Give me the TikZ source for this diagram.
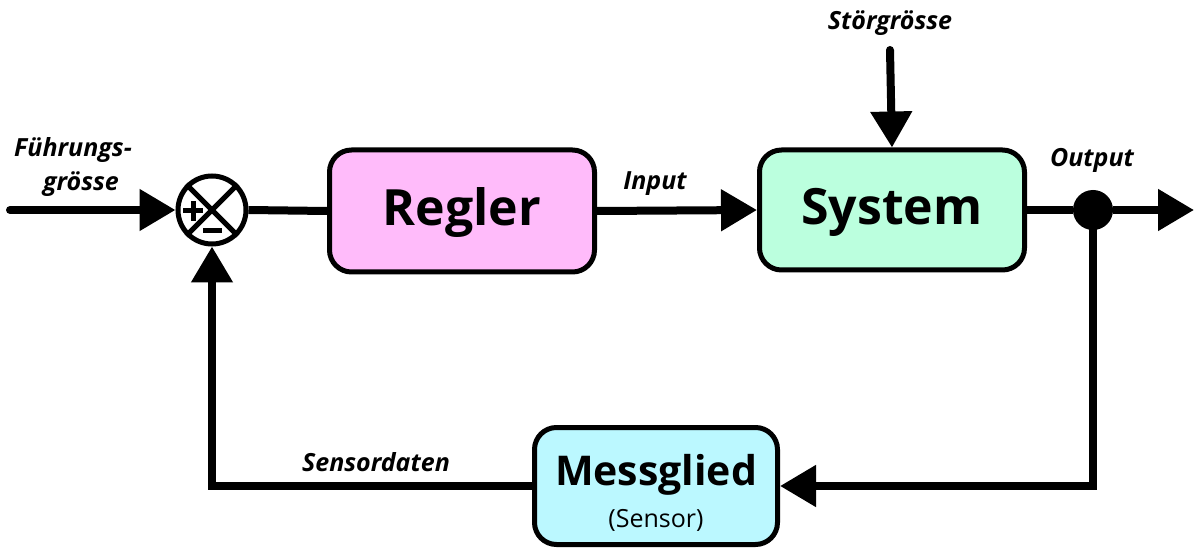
\documentclass[tikz,border=0pt]{standalone}
\usepackage{fontspec}
\setmainfont{Open Sans}
\usetikzlibrary{arrows.meta}
\definecolor{reglerfill}{RGB}{255,187,250}
\definecolor{systemfill}{RGB}{187,255,222}
\definecolor{messfill}{RGB}{187,248,255}
\tikzset{
  block/.style={draw=black, line width=5pt, rounded corners=22pt, inner sep=0pt},
  title/.style={font=\fontsize{50}{56}\selectfont\bfseries, inner sep=0pt},
  wire/.style={line width=8pt},
  flow/.style={wire, -{Triangle[length=36pt,width=40pt]}},
  sign/.style={line width=5pt},
  lbl/.style={font=\fontsize{25}{30}\selectfont\bfseries\itshape, inner sep=0pt},
}
\begin{document}
\begin{tikzpicture}[x=1pt,y=-1pt]
\useasboundingbox (0,0) rectangle (1195,548);

% blocks
\node[block, fill=reglerfill, minimum width=265pt, minimum height=122pt] (regler) at (462,211) {};
\node[title] (reglertext) at (462,213) {Regler};
\node[block, fill=systemfill, minimum width=265pt, minimum height=120pt] (system) at (892,210) {};
\node[title] (systemtext) at (892,212) {System};
\node[block, fill=messfill, minimum width=243pt, minimum height=117pt] (mess) at (656,486) {};
\node[font=\fontsize{41}{46}\selectfont\bfseries, inner sep=0pt] (messtitle) at (656,475) {Messglied};
\node[font=\fontsize{25}{30}\selectfont, inner sep=0pt] (messsub) at (656,520) {(Sensor)};

% summing junction with its signs
\node[draw, circle, line width=5pt, minimum size=68pt, inner sep=0pt] (sum) at (212,210) {};
\draw[line width=5pt] (sum.north west) -- (sum.south east);
\draw[line width=5pt] (sum.north east) -- (sum.south west);
\draw[sign] (183,211) -- (203,211) (193,201) -- (193,221);
\draw[sign] (203,231) -- (222,231);

% branch point
\node[fill=black, circle, minimum size=40pt, inner sep=0pt] (dot) at (1093,210) {};

% free ends
\coordinate (in) at (10,210);
\coordinate (out) at (1194,210);
\coordinate (dist) at (890,50);

% connectors
\draw[flow, line cap=round] (in) -- (sum.west);
\draw[wire] (sum.east) -- (regler.west);
\draw[flow] (regler.east) -- (system.west);
\draw[wire] (system.east) -- (dot);
\draw[flow] (dot) -- (out);
\draw[flow, line cap=round] (dist) -- (system.north);
\draw[flow] (dot.center) |- (mess.east);
\draw[flow] (mess.west) -| (sum.south);

% labels
\node[lbl] (fuehrung1) at (73,150) {Führungs-};
\node[lbl] (fuehrung2) at (81,184) {grösse};
\node[lbl] (stoer) at (890,23) {Störgrösse};
\node[lbl] (input) at (655,184) {Input};
\node[lbl] (output) at (1092,160) {Output};
\node[lbl] (sensordaten) at (376,462) {Sensordaten};
\end{tikzpicture}
\end{document}
